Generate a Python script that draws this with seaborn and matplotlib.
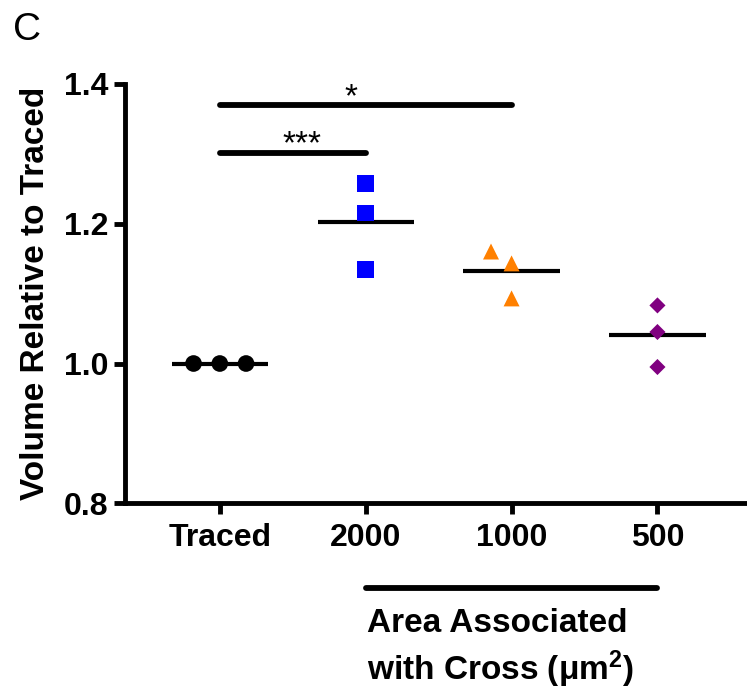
"""Volume relative to traced, by area associated with cross (panel C)."""
import matplotlib
matplotlib.use("Agg")
import pandas as pd
import seaborn as sns
import matplotlib.pyplot as plt

groups = ["Traced", "2000", "1000", "500"]
traced = [1.000, 1.000, 1.000]
area_2000 = [1.257, 1.215, 1.134]
area_1000 = [1.160, 1.143, 1.093]
area_500 = [1.083, 1.045, 0.995]

markers = ["o", "s", "^", "D"]
colors = ["#000000", "#0000ff", "#ff8000", "#800080"]
marker_sizes = [12, 12, 11.5, 8.2]
swarm_pad = [6, 4, 5, 4]  # invisible edge width, only widens the swarm spacing

sig_pairs = [("Traced", "1000"), ("Traced", "2000")]
sig_heights = [1.369, 1.301]
sig_labels = ["*", "***"]

y_ticks = [0.8, 1.0, 1.2, 1.4]


def style_panel():
    sns.set_theme(style="ticks")
    plt.rcParams.update({
        "font.family": ["Liberation Sans", "DejaVu Sans"],
        "font.weight": "bold",
        "mathtext.fontset": "custom",
        "mathtext.default": "bf",
        "mathtext.bf": "Liberation Sans:bold",
        "mathtext.rm": "Liberation Sans:bold",
        "text.color": "black",
        "axes.labelcolor": "black",
        "axes.linewidth": 3.5,
        "axes.edgecolor": "black",
        "xtick.major.width": 3.5,
        "ytick.major.width": 3.5,
        "xtick.major.size": 8,
        "ytick.major.size": 8,
        "xtick.color": "black",
        "ytick.color": "black",
        "xtick.labelsize": 23,
        "ytick.labelsize": 23,
    })


def main():
    style_panel()
    df = pd.DataFrame({
        "group": [g for g, v in zip(groups, [traced, area_2000, area_1000, area_500]) for _ in v],
        "value": traced + area_2000 + area_1000 + area_500,
    })

    fig = plt.figure(figsize=(7.47, 6.92), dpi=100)
    ax = fig.add_axes([0.1673, 0.2724, 0.83, 0.6069])

    for g, m, c, s, pad in zip(groups, markers, colors, marker_sizes, swarm_pad):
        sns.swarmplot(
            data=df[df["group"] == g], x="group", y="value", order=groups,
            marker=m, color=c, size=s, linewidth=pad, edgecolor="none",
            ax=ax, zorder=4,
        )

    means = df.groupby("group")["value"].mean().reindex(groups)
    pos = range(len(groups))
    ax.hlines(means.values, [p - 0.33 for p in pos], [p + 0.33 for p in pos],
              colors="black", lw=3, zorder=3)

    # significance bars (stars sit a little off-centre, as in the original)
    star_shift = [-0.1, 0.06]
    for (a, b), h, lab, dx in zip(sig_pairs, sig_heights, sig_labels, star_shift):
        x0, x1 = groups.index(a), groups.index(b)
        ax.plot([x0, x1], [h, h], color="black", lw=4.2,
                solid_capstyle="round", clip_on=False)
        ax.text((x0 + x1) / 2 + dx, h - 0.001, lab, ha="center",
                va="baseline", fontsize=24, fontweight="normal")

    ax.set_xlim(-0.65, 3.6)
    ax.set_ylim(0.8, 1.4)
    ax.set_yticks(y_ticks)
    ax.set_yticklabels([f"{t:.1f}" for t in y_ticks])
    ax.tick_params(axis="y", pad=4)
    ax.tick_params(axis="x", pad=6)
    ax.set_xlabel("")
    ax.set_ylabel("Volume Relative to Traced", fontsize=24, fontweight="bold",
                  labelpad=9)
    sns.despine(ax=ax)

    # grouping bar under the area categories
    tr = ax.get_xaxis_transform()
    ax.plot([groups.index("2000"), groups.index("500")], [-0.201, -0.201],
            transform=tr, color="black", lw=4.2, solid_capstyle="round",
            clip_on=False)
    ax.text(1.01, -0.248, "Area Associated\nwith Cross (\u03bcm$^{2}$)",
            transform=tr, ha="left", va="top", fontsize=24,
            fontweight="bold", linespacing=1.3)

    fig.text(0.017, 0.982, "C", fontsize=28, fontweight="normal", va="top")

    fig.savefig("out.png", dpi=100)
    plt.close(fig)


if __name__ == "__main__":
    main()
